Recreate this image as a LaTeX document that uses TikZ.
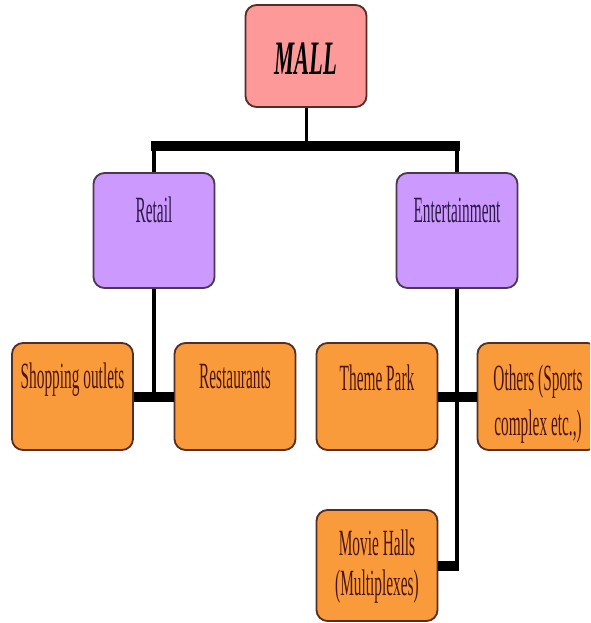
\documentclass[tikz,border=0pt]{standalone}
\usepackage{fontspec}
\newfontfamily\cf[FakeStretch=0.415]{Liberation Serif}
\newfontfamily\mf[FakeStretch=0.47]{Liberation Serif}
\definecolor{mallpink}{RGB}{253,153,153}
\definecolor{lilac}{RGB}{204,153,255}
\definecolor{orng}{RGB}{249,155,58}
\definecolor{edgebrown}{RGB}{85,45,35}
\definecolor{edgepurple}{RGB}{75,55,80}
\definecolor{txtbrown}{RGB}{75,20,20}
\definecolor{txtpurple}{RGB}{45,25,70}
\begin{document}
\begin{tikzpicture}[x=1pt,y=-1pt,
  box/.style={rectangle, rounded corners=11pt, line width=1.8pt, inner sep=0pt, minimum width=121pt},
  pinkbox/.style={box, draw=edgebrown, fill=mallpink},
  purplebox/.style={box, draw=edgepurple, fill=lilac},
  orangebox/.style={box, draw=edgebrown, fill=orng},
  lbl/.style={inner sep=0pt, anchor=base, font=\cf\fontsize{37}{44}\selectfont},
  olbl/.style={lbl, text=txtbrown},
  plbl/.style={lbl, text=txtpurple},
  thinline/.style={line width=3.5pt},
  thickline/.style={line width=10pt}
]
\useasboundingbox (0,0) rectangle (590,623);
\clip (0,0) rectangle (590,623);
\fill[white] (0,0) rectangle (590,623);

% boxes
\node[pinkbox, minimum height=102pt] (mall) at (306,56) {};
\node[purplebox, minimum height=115pt] (retail) at (154,230.5) {};
\node[purplebox, minimum height=115pt] (ent) at (457,230.5) {};
\node[orangebox, minimum height=107pt] (shop) at (72.5,396.5) {};
\node[orangebox, minimum height=107pt] (rest) at (235,396.5) {};
\node[orangebox, minimum height=107pt] (theme) at (377,396.5) {};
\node[orangebox, minimum height=107pt] (others) at (538,396.5) {};
\node[orangebox, minimum height=111pt] (movie) at (377,565.5) {};

% labels
\node[inner sep=0pt, anchor=base, font=\mf\bfseries\itshape\fontsize{48}{56}\selectfont] (tmall) at (306,75) {MALL};
\node[plbl] (tretail) at (154,222) {Retail};
\node[plbl] (tent) at (457,222) {Entertainment};
\node[olbl] (tshop) at (72.5,388) {Shopping outlets};
\node[olbl] (trest) at (235,388) {Restaurants};
\node[olbl] (ttheme) at (377,390) {Theme Park};
\node[olbl] (tothers1) at (538,390) {Others (Sports};
\node[olbl] (tothers2) at (538,435) {complex etc.,)};
\node[olbl] (tmovie1) at (377,555) {Movie Halls};
\node[olbl] (tmovie2) at (377,595) {(Multiplexes)};

% junctions
\coordinate (barM) at (306,146);
\coordinate (barL) at (151,146);
\coordinate (barR) at (460,146);

% connectors
\draw[line width=3pt] (mall.south) -- (barM);
\draw[thickline] (barL) -- (barR);
\draw[thinline] (retail.north) -- (retail.north |- barM);
\draw[line width=4.5pt] (ent.north) -- (ent.north |- barM);
\draw[thinline] (retail.south) -- (retail.south |- shop.east);
\draw[thickline] (shop.east) -- (rest.west);
\draw[thinline] (ent.south) -- ([yshift=-5pt]ent.south |- movie.east);
\draw[thickline] (movie.east) -- ([xshift=1.75pt]ent.south |- movie.east);
\draw[thickline] (theme.east) -- (others.west);
\end{tikzpicture}
\end{document}
